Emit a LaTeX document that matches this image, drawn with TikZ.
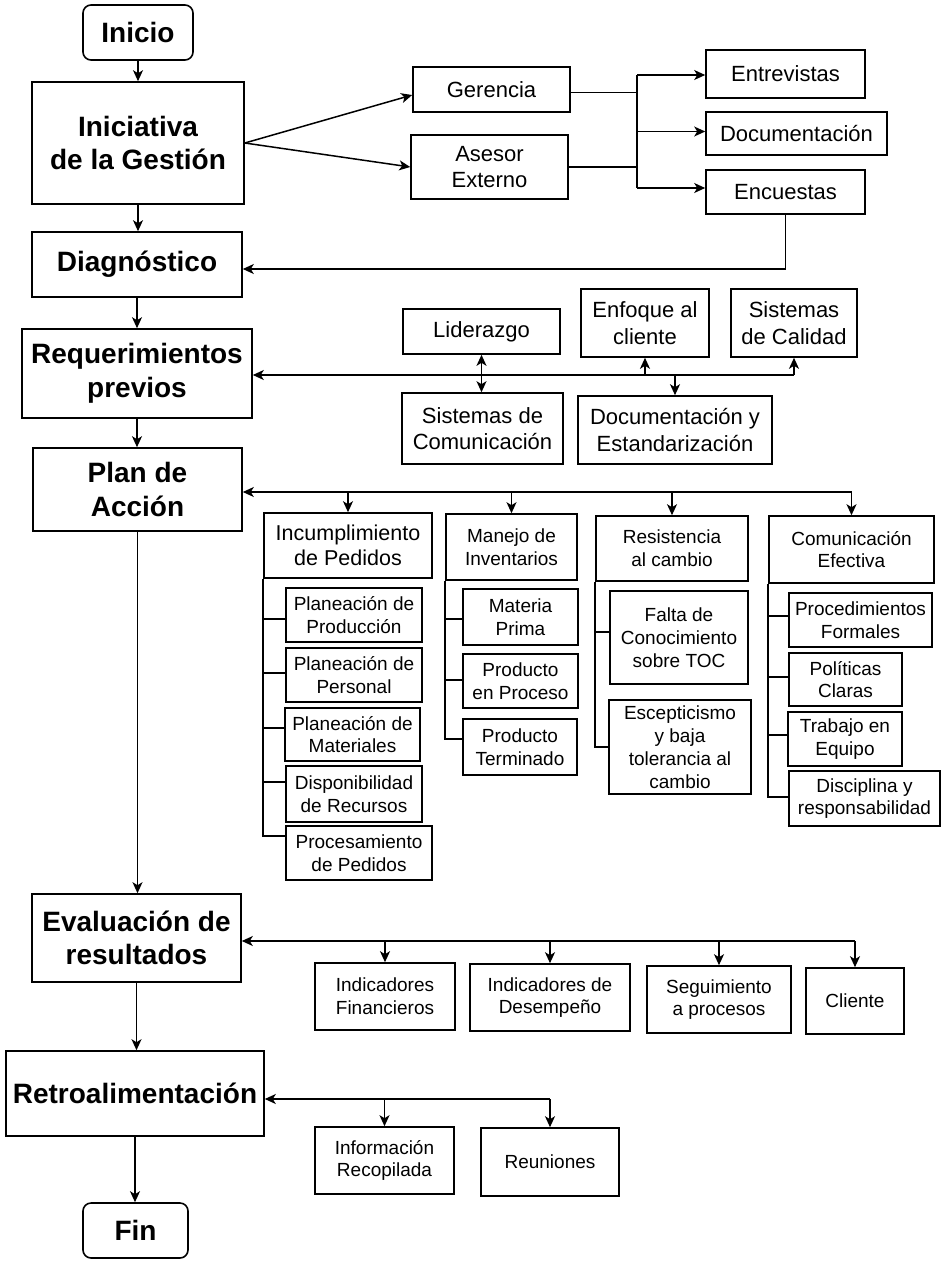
\documentclass[tikz,border=0pt]{standalone}
\usepackage{fontspec}
\setmainfont{Liberation Sans}
\usetikzlibrary{arrows.meta,calc}
\tikzset{
  bx/.style={draw, line width=1.6pt, inner sep=0pt, align=center},
  bold/.style={bx, font=\fontsize{28}{33.6}\selectfont\bfseries},
  mid/.style={bx, font=\fontsize{22}{26.4}\selectfont},
  hdr/.style={bx, font=\fontsize{21.5}{25.5}\selectfont},
  sml/.style={bx, font=\fontsize{19}{22.8}\selectfont},
  ln/.style={line width=1.5pt},
  arr/.style={ln, -{Stealth[length=11pt,width=10pt,inset=3pt]}},
  darr/.style={ln, {Stealth[length=11pt,width=10pt,inset=3pt]}-{Stealth[length=11pt,width=10pt,inset=3pt]}},
}
\newcommand\mybox[7]{\node[#1, minimum width={(#5-#3)*1pt}, minimum height={(#6-#4)*1pt}] (#2) at ({(#3+#5)/2},{(#4+#6)/2}) {#7};}
\begin{document}
\begin{tikzpicture}[x=1pt,y=-1pt]
\fill[white] (0,0) rectangle (942,1262);
\useasboundingbox (0,0) rectangle (942,1262);
% main column
\mybox{bold, rounded corners=8pt}{ini}{83}{5}{193}{60}{Inicio}
\mybox{bold}{inic}{32}{82}{244}{204}{Iniciativa\\de la Gestión}
\mybox{bold}{diag}{32}{232}{242}{297}{Diagnóstico}
\mybox{bold}{req}{22}{329}{252}{418}{Requerimientos\\previos}
\mybox{bold}{plan}{33}{448}{242}{531}{Plan de\\Acción}
\mybox{bold}{eval}{32}{894}{241}{982}{Evaluación de\\resultados}
\mybox{bold}{retro}{6}{1051}{264}{1136}{Retroalimentación}
\mybox{bold, rounded corners=8pt}{fin}{83}{1203}{188}{1258}{Fin}
% top right
\mybox{mid}{ger}{413}{67}{570}{112}{Gerencia}
\mybox{mid}{ases}{411}{135}{568}{199}{Asesor\\Externo}
\mybox{mid}{entr}{706}{50}{865}{98}{Entrevistas}
\mybox{mid}{docu}{706}{112}{887}{155}{Documentación}
\mybox{mid}{encu}{706}{170}{865}{214}{Encuestas}
% requerimientos
\mybox{mid}{lid}{403}{309}{560}{354}{Liderazgo}
\mybox{mid}{sisc}{402}{393}{563}{464}{Sistemas de\\Comunicación}
\mybox{mid}{enf}{581}{289}{709}{357}{Enfoque al\\cliente}
\mybox{mid}{doce}{578}{396}{772}{464}{Documentación y\\Estandarización}
\mybox{mid}{sisq}{731}{289}{857}{357}{Sistemas\\de Calidad}
% plan de accion
\mybox{hdr}{incu}{264}{513}{432}{578}{Incumplimiento\\de Pedidos}
\mybox{sml}{pp1}{286}{588}{422}{642}{Planeación de\\Producción}
\mybox{sml}{pp2}{286}{648}{422}{702}{Planeación de\\Personal}
\mybox{sml}{pp3}{285}{708}{420}{761}{Planeación de\\Materiales}
\mybox{sml}{pp4}{286}{766}{422}{822}{Disponibilidad\\de Recursos}
\mybox{sml}{pp5}{286}{826}{432}{880}{Procesamiento\\de Pedidos}
\mybox{sml}{mane}{446}{514}{577}{580}{Manejo de\\Inventarios}
\mybox{sml}{mi1}{463}{589}{578}{645}{Materia\\Prima}
\mybox{sml}{mi2}{463}{654}{578}{708}{Producto\\en Proceso}
\mybox{sml}{mi3}{463}{719}{577}{775}{Producto\\Terminado}
\mybox{sml}{resi}{596}{516}{748}{581}{Resistencia\\al cambio}
\mybox{sml}{rc1}{610}{591}{748}{684}{Falta de\\Conocimiento\\sobre TOC}
\mybox{sml}{rc2}{609}{700}{751}{794}{Escepticismo\\y baja\\tolerancia al\\cambio}
\mybox{sml}{come}{769}{516}{934}{583}{Comunicación\\Efectiva}
\mybox{sml}{ce1}{789}{593}{932}{647}{Procedimientos\\Formales}
\mybox{sml}{ce2}{789}{653}{902}{706}{Políticas\\Claras}
\mybox{sml}{ce3}{788}{712}{902}{766}{Trabajo en\\Equipo}
\mybox{sml}{ce4}{789}{771}{940}{826}{Disciplina y\\responsabilidad}
% evaluacion
\mybox{sml}{ifin}{315}{963}{455}{1030}{Indicadores\\Financieros}
\mybox{sml}{idd}{470}{964}{630}{1031}{Indicadores de\\Desempeño}
\mybox{sml}{sp}{647}{966}{791}{1033}{Seguimiento\\a procesos}
\mybox{sml}{cl}{806}{968}{904}{1034}{Cliente}
\mybox{sml}{ir}{315}{1127}{454}{1194}{Información\\Recopilada}
\mybox{sml}{reu}{481}{1128}{619}{1196}{Reuniones}
% main flow
\draw[arr] (ini.south) -- (ini.south |- inic.north);
\draw[arr] (inic.south) -- (inic.south |- diag.north);
\draw[arr] (diag.south) -- (diag.south |- req.north);
\draw[arr] (req.south) -- (req.south |- plan.north);
\draw[arr] (plan.south) -- (plan.south |- eval.north);
\draw[arr] (eval.south) -- (eval.south |- retro.north);
\draw[arr] (retro.south) -- (retro.south |- fin.north);
% top right connectors
\coordinate (bx) at (637,0);
\coordinate (gE) at ([yshift=-3pt]ger.east);
\coordinate (enT) at ([yshift=-1pt]entr.west);
\coordinate (doT) at ([yshift=2pt]docu.west);
\coordinate (ecT) at ([yshift=4pt]encu.west);
\draw[arr] (inic.east) -- ([yshift=-5.5pt]ger.west);
\draw[arr] (inic.east) -- (ases.west);
\draw[ln] (gE) -- (bx |- gE);
\draw[ln] (ases.east) -- (bx |- ases.east);
\draw[ln] (bx |- enT) -- (bx |- ecT);
\draw[arr] (bx |- enT) -- (enT);
\draw[arr] (bx |- doT) -- (doT);
\draw[arr] (bx |- ecT) -- (ecT);
\draw[arr] (encu.south) |- ([yshift=-4.5pt]diag.east);
% requerimientos bus
\coordinate (rbus) at (0,375);
\draw[arr] (sisq.south |- rbus) -- (req.east |- rbus);
\draw[arr] (sisq.south |- rbus) -- (sisq.south);
\draw[arr] (enf.south |- rbus) -- (enf.south);
\draw[arr] (doce.north |- rbus) -- (doce.north);
\draw[darr] (lid.south) -- (lid.south |- sisc.north);
% plan bus
\coordinate (pbus) at (0,492);
\draw[arr] (come.north |- pbus) -- (plan.east |- pbus);
\draw[arr] (incu.north |- pbus) -- (incu.north);
\draw[arr] (mane.north |- pbus) -- (mane.north);
\draw[arr] (resi.north |- pbus) -- (resi.north);
\draw[arr] (come.north |- pbus) -- (come.north);
% branches
\draw[ln] (incu.south west) |- ([yshift=-4pt]pp1.west);
\draw[ln] (incu.south west) |- ([yshift=2pt]pp2.west);
\draw[ln] (incu.south west) |- ([yshift=6.5pt]pp3.west);
\draw[ln] (incu.south west) |- ([yshift=12pt]pp4.west);
\draw[ln] (incu.south west) |- ([yshift=17pt]pp5.west);
\draw[ln] (mane.south west) |- ([yshift=-2pt]mi1.west);
\draw[ln] (mane.south west) |- ([yshift=1pt]mi2.west);
\draw[ln] (mane.south west) |- ([yshift=8pt]mi3.west);
\draw[ln] (resi.south west) |- ([yshift=5.5pt]rc1.west);
\draw[ln] (resi.south west) |- (rc2.west);
\draw[ln] (come.south west) |- ([yshift=4pt]ce1.west);
\draw[ln] (come.south west) |- ([yshift=2.5pt]ce2.west);
\draw[ln] (come.south west) |- ([yshift=4pt]ce3.west);
\draw[ln] (come.south west) |- ([yshift=1.5pt]ce4.west);
% evaluacion bus
\coordinate (ebus) at (0,941);
\draw[arr] (cl.north |- ebus) -- (eval.east |- ebus);
\draw[arr] (ifin.north |- ebus) -- (ifin.north);
\draw[arr] (idd.north |- ebus) -- (idd.north);
\draw[arr] (sp.north |- ebus) -- (sp.north);
\draw[arr] (cl.north |- ebus) -- (cl.north);
% retro bus
\coordinate (tbus) at (0,1099);
\draw[arr] (reu.north |- tbus) -- (retro.east |- tbus);
\draw[arr] (ir.north |- tbus) -- (ir.north);
\draw[arr] (reu.north |- tbus) -- (reu.north);
\end{tikzpicture}
\end{document}
